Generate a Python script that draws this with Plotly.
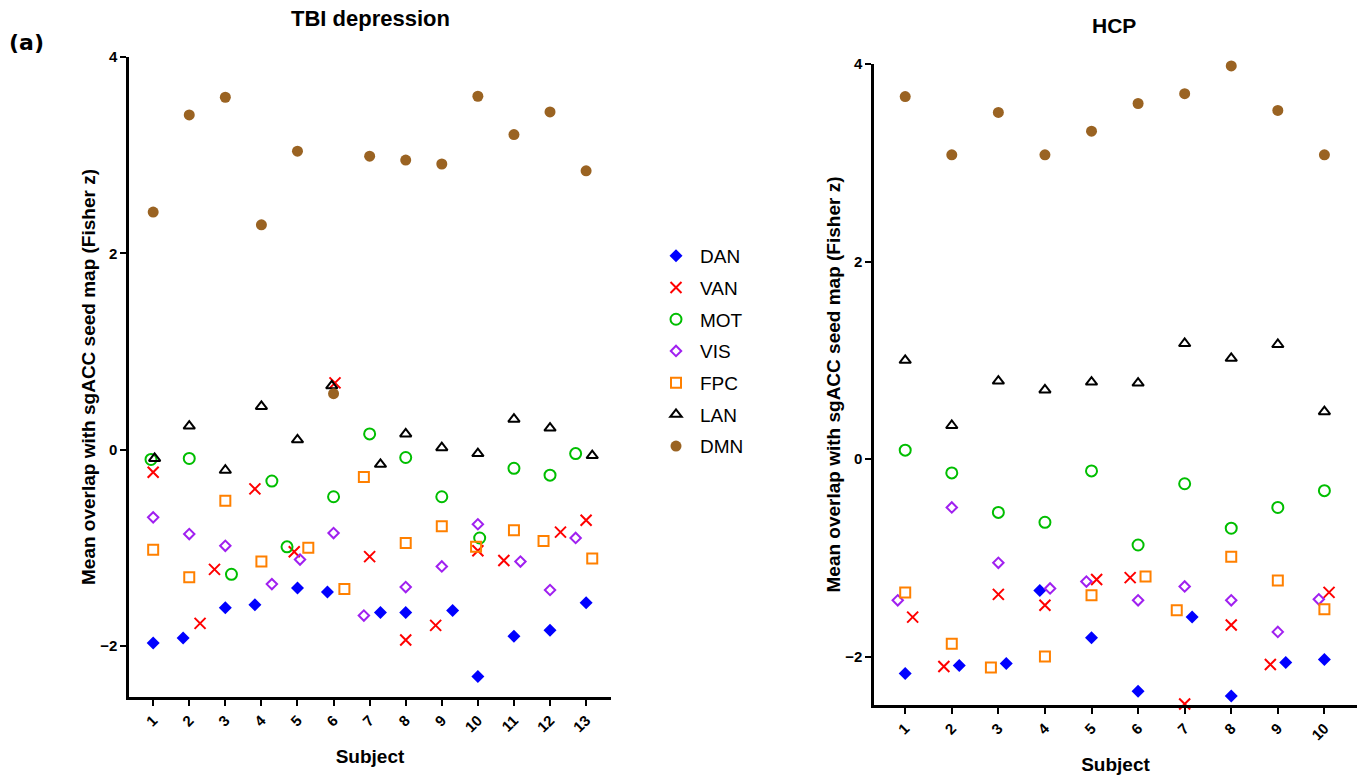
import plotly.graph_objects as go

# ---------------- data ----------------
networks = ["DAN", "VAN", "MOT", "VIS", "FPC", "LAN", "DMN"]
tbi_subjects = list(range(1, 14))
hcp_subjects = list(range(1, 11))
tbi_ticklabels = [str(s) for s in tbi_subjects]
hcp_ticklabels = [str(s) for s in hcp_subjects]

# TBI depression (13 subjects)
tbi_dan = [-1.97, -1.92, -1.61, -1.58, -1.41, -1.45, -1.66, -1.66, -1.64, -2.31, -1.90, -1.84, -1.56]
tbi_van = [-0.23, -1.77, -1.22, -0.40, -1.04, 0.68, -1.09, -1.94, -1.79, -1.03, -1.13, -0.84, -0.72]
tbi_mot = [-0.10, -0.09, -1.27, -0.32, -0.99, -0.48, 0.16, -0.08, -0.48, -0.90, -0.19, -0.26, -0.04]
tbi_vis = [-0.69, -0.86, -0.98, -1.37, -1.12, -0.85, -1.69, -1.40, -1.19, -0.76, -1.14, -1.43, -0.90]
tbi_fpc = [-1.02, -1.30, -0.52, -1.14, -1.00, -1.42, -0.28, -0.95, -0.78, -0.99, -0.82, -0.93, -1.11]
tbi_lan = [-0.09, 0.24, -0.21, 0.44, 0.10, 0.65, -0.15, 0.16, 0.02, -0.04, 0.31, 0.22, -0.06]
tbi_dmn = [2.42, 3.41, 3.59, 2.29, 3.04, 0.57, 2.99, 2.95, 2.91, 3.60, 3.21, 3.44, 2.84]

# horizontal scatter offsets (subject units) for overlapping points
tbi_dan_dx = [0, -0.17, 0, -0.18, 0, -0.17, 0.30, 0, 0.30, 0, 0, 0, 0]
tbi_van_dx = [0, 0.30, -0.30, -0.18, -0.09, 0.04, 0, 0, -0.17, 0, -0.28, 0.29, 0]
tbi_mot_dx = [-0.06, 0, 0.17, 0.29, -0.29, 0, 0, 0, 0, 0.05, 0, 0, -0.29]
tbi_vis_dx = [0, 0, 0, 0.29, 0.07, 0, -0.16, 0, 0, 0, 0.18, 0, -0.29]
tbi_fpc_dx = [0, 0, 0, 0, 0.30, 0.30, -0.16, 0, 0, -0.05, 0, -0.18, 0.17]
tbi_lan_dx = [0.04, 0, 0, 0, 0, -0.05, 0.30, 0, 0, 0, 0, 0, 0.17]
tbi_dmn_dx = [0] * 13

# HCP (10 subjects)
hcp_dan = [-2.17, -2.09, -2.07, -1.33, -1.81, -2.35, -1.60, -2.40, -2.06, -2.03]
hcp_van = [-1.60, -2.10, -1.37, -1.48, -1.22, -1.20, -2.48, -1.68, -2.08, -1.35]
hcp_mot = [0.09, -0.14, -0.54, -0.64, -0.12, -0.87, -0.25, -0.70, -0.49, -0.32]
hcp_vis = [-1.43, -0.49, -1.05, -1.31, -1.24, -1.43, -1.29, -1.43, -1.75, -1.42]
hcp_fpc = [-1.35, -1.87, -2.11, -2.00, -1.38, -1.19, -1.53, -0.99, -1.23, -1.52]
hcp_lan = [1.00, 0.34, 0.79, 0.70, 0.78, 0.77, 1.17, 1.02, 1.16, 0.48]
hcp_dmn = [3.67, 3.08, 3.51, 3.08, 3.32, 3.60, 3.70, 3.98, 3.53, 3.08]

hcp_dan_dx = [0, 0.16, 0.17, -0.11, 0, 0, 0.16, 0, 0.17, 0]
hcp_van_dx = [0.16, -0.17, 0, 0, 0.11, -0.17, 0, 0, -0.16, 0.10]
hcp_mot_dx = [0] * 10
hcp_vis_dx = [-0.16, 0, 0, 0.11, -0.11, 0, 0, 0, 0, -0.12]
hcp_fpc_dx = [0, 0, -0.16, 0, 0, 0.16, -0.17, 0, 0, 0]
hcp_lan_dx = [0] * 10
hcp_dmn_dx = [0] * 10

# ---------------- styles ----------------
styles = {
    "DAN": dict(symbol="diamond", color="#0000FF", size=10, line=dict(width=0)),
    "VAN": dict(symbol="x-thin-open", color="#FF0000", size=11, line=dict(width=2, color="#FF0000")),
    "MOT": dict(symbol="circle-open", color="#00BE00", size=11, line=dict(width=2, color="#00BE00")),
    "VIS": dict(symbol="diamond-open", color="#A020F0", size=8, line=dict(width=2, color="#A020F0")),
    "FPC": dict(symbol="square-open", color="#FF8000", size=10, line=dict(width=2, color="#FF8000")),
    "LAN": dict(symbol="triangle-up-open", color="#000000", size=10, line=dict(width=2, color="#000000")),
    "DMN": dict(symbol="circle", color="#9A6322", size=11, line=dict(width=0)),
}

tbi_series = [tbi_dan, tbi_van, tbi_mot, tbi_vis, tbi_fpc, tbi_lan, tbi_dmn]
tbi_offsets = [tbi_dan_dx, tbi_van_dx, tbi_mot_dx, tbi_vis_dx, tbi_fpc_dx, tbi_lan_dx, tbi_dmn_dx]
hcp_series = [hcp_dan, hcp_van, hcp_mot, hcp_vis, hcp_fpc, hcp_lan, hcp_dmn]
hcp_offsets = [hcp_dan_dx, hcp_van_dx, hcp_mot_dx, hcp_vis_dx, hcp_fpc_dx, hcp_lan_dx, hcp_dmn_dx]

fig = go.Figure()

for name, vals, dx in zip(networks, tbi_series, tbi_offsets):
    fig.add_trace(go.Scatter(
        x=[s + d for s, d in zip(tbi_subjects, dx)], y=vals, mode="markers",
        name=name, legendgroup=name, marker=styles[name],
        xaxis="x", yaxis="y", cliponaxis=False, showlegend=True))

for name, vals, dx in zip(networks, hcp_series, hcp_offsets):
    fig.add_trace(go.Scatter(
        x=[s + d for s, d in zip(hcp_subjects, dx)], y=vals, mode="markers",
        name=name, legendgroup=name, marker=styles[name],
        xaxis="x2", yaxis="y2", cliponaxis=False, showlegend=False))

W, H = 1361, 776
axis_common = dict(showline=True, linecolor="black", linewidth=2.5, ticks="outside",
                   ticklen=6, tickwidth=2, tickcolor="black", showgrid=False, zeroline=False,
                   automargin=False,
                   tickfont=dict(family="Liberation Sans", size=15, color="black", weight="bold"))
ytitle = "Mean overlap with sgACC seed map (Fisher z)"
xtitle_font = dict(family="Liberation Sans", size=19, weight="bold")
ytitle_font = dict(family="Liberation Sans", size=19, weight="bold")

fig.update_layout(
    width=W, height=H, margin=dict(l=0, r=0, t=0, b=0, autoexpand=False),
    paper_bgcolor="white", plot_bgcolor="white",
    font=dict(family="Liberation Sans", color="black"),
    xaxis=dict(domain=[129 / W, 611 / W], range=[0.33, 13.69], tickvals=tbi_subjects,
               ticktext=tbi_ticklabels, tickangle=-45, anchor="y",
               title=dict(text="Subject", font=xtitle_font, standoff=16),
               **axis_common),
    yaxis=dict(domain=[1 - 697 / H, 1 - 57 / H], range=[-2.52, 4], tickvals=[-2, 0, 2, 4],
               anchor="x",
               title=dict(text=ytitle, font=ytitle_font, standoff=0),
               **axis_common),
    xaxis2=dict(domain=[874 / W, 1357 / W], range=[0.33, 10.7], tickvals=hcp_subjects,
                ticktext=hcp_ticklabels, tickangle=-45, anchor="y2",
                title=dict(text="Subject", font=xtitle_font, standoff=16),
                **axis_common),
    yaxis2=dict(domain=[1 - 705 / H, 1 - 64 / H], range=[-2.49, 4], tickvals=[-2, 0, 2, 4],
                anchor="x2",
                title=dict(text=ytitle, font=ytitle_font, standoff=0),
                **axis_common),
    legend=dict(x=652 / W, y=1 - 237 / H, xanchor="left", yanchor="top",
                font=dict(family="Liberation Sans", size=19, color="black"),
                itemwidth=38, tracegroupgap=4, bgcolor="rgba(0,0,0,0)"),
    annotations=[
        dict(text="<b>TBI depression</b>", x=370 / W, y=1 - 18 / H, xref="paper", yref="paper",
             xanchor="center", yanchor="middle",
             showarrow=False, font=dict(size=22, family="Liberation Sans")),
        dict(text="<b>HCP</b>", x=1114 / W, y=1 - 26 / H, xref="paper", yref="paper",
             xanchor="center", yanchor="middle",
             showarrow=False, font=dict(size=21, family="Liberation Sans")),
        dict(text="<b>(a)</b>", x=26 / W, y=1 - 42 / H, xref="paper", yref="paper",
             xanchor="center", yanchor="middle",
             showarrow=False, font=dict(size=22, family="DejaVu Sans")),
    ],
)

fig.write_html("out.html")
